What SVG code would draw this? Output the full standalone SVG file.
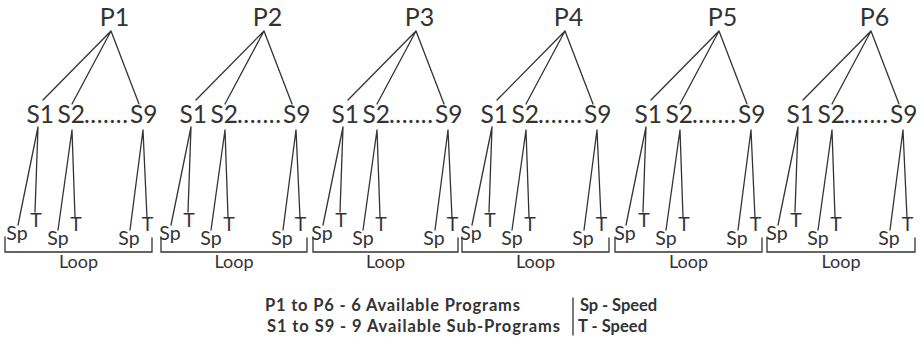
<svg xmlns="http://www.w3.org/2000/svg" width="922" height="342" viewBox="0 0 922 342">
<style>
text{font-family:Lato,"Noto Sans","Open Sans",sans-serif;fill:#333}
.p{font-size:25px;text-anchor:middle}
.s{font-size:24.5px}
.d{font-size:24.5px}
.leaf{font-size:19.5px;text-anchor:middle}
.loop{font-size:18px;text-anchor:middle}
.leg{font-size:16.5px;font-weight:bold}
.c{stroke:#333;stroke-width:1.3;fill:none;stroke-linecap:round}
</style>
<rect width="922" height="342" fill="#fff"/>
<defs>
<g id="conn">
<path d="M111,31L43,100M111,31L72,104M111,31L139,104M38,127L18,225M38,127L35,212M72,130L58,230M72,130L75,217M143,130L130,230M143,130L147,218"/>
</g>
</defs>
<g id="connectors" class="c">
<use href="#conn"/>
<use href="#conn" transform="translate(153,0)"/>
<use href="#conn" transform="translate(305,0)"/>
<use href="#conn" transform="translate(454,0)"/>
<use href="#conn" transform="translate(608,0)"/>
<use href="#conn" transform="translate(760,0)"/>
<path d="M5,237V252H152V238M161,237V252H307V238M313,237V252H458V238M462,237V252H609V238M615,237V252H762V238M767,237V252H915V238"/>
</g>
<g id="program1">
<g id="P1"><text class="p" x="114.5" y="25.5">P1</text></g>
<g id="P1-S1"><text class="s" x="26.5" y="123">S1</text></g>
<g id="P1-S2"><text class="s" x="57.5" y="123">S2</text><text class="d" x="84" y="123" textLength="44">.......</text></g>
<g id="P1-S9"><text class="s" x="130" y="123">S9</text></g>
<g id="P1-leaves"><text class="leaf" x="17" y="240">Sp</text><text class="leaf" x="36" y="227">T</text><text class="leaf" x="58" y="245">Sp</text><text class="leaf" x="76" y="231">T</text><text class="leaf" x="129" y="245">Sp</text><text class="leaf" x="147.5" y="231">T</text></g>
<g id="P1-loop"><text class="loop" x="78.5" y="268">Loop</text></g>
</g>
<g id="program2" transform="translate(153,0)">
<g id="P2"><text class="p" x="114.5" y="25.5">P2</text></g>
<g id="P2-S1"><text class="s" x="26.5" y="123">S1</text></g>
<g id="P2-S2"><text class="s" x="57.5" y="123">S2</text><text class="d" x="84" y="123" textLength="44">.......</text></g>
<g id="P2-S9"><text class="s" x="130" y="123">S9</text></g>
<g id="P2-leaves"><text class="leaf" x="17" y="240">Sp</text><text class="leaf" x="36" y="227">T</text><text class="leaf" x="58" y="245">Sp</text><text class="leaf" x="76" y="231">T</text><text class="leaf" x="129" y="245">Sp</text><text class="leaf" x="147.5" y="231">T</text></g>
</g>
<g id="P2-loop"><text class="loop" x="234" y="268">Loop</text></g>
<g id="program3" transform="translate(305,0)">
<g id="P3"><text class="p" x="114.5" y="25.5">P3</text></g>
<g id="P3-S1"><text class="s" x="26.5" y="123">S1</text></g>
<g id="P3-S2"><text class="s" x="57.5" y="123">S2</text><text class="d" x="84" y="123" textLength="44">.......</text></g>
<g id="P3-S9"><text class="s" x="130" y="123">S9</text></g>
<g id="P3-leaves"><text class="leaf" x="17" y="240">Sp</text><text class="leaf" x="36" y="227">T</text><text class="leaf" x="58" y="245">Sp</text><text class="leaf" x="76" y="231">T</text><text class="leaf" x="129" y="245">Sp</text><text class="leaf" x="147.5" y="231">T</text></g>
</g>
<g id="P3-loop"><text class="loop" x="385.5" y="268">Loop</text></g>
<g id="program4" transform="translate(454,0)">
<g id="P4"><text class="p" x="114.5" y="25.5">P4</text></g>
<g id="P4-S1"><text class="s" x="26.5" y="123">S1</text></g>
<g id="P4-S2"><text class="s" x="57.5" y="123">S2</text><text class="d" x="84" y="123" textLength="44">.......</text></g>
<g id="P4-S9"><text class="s" x="130" y="123">S9</text></g>
<g id="P4-leaves"><text class="leaf" x="17" y="240">Sp</text><text class="leaf" x="36" y="227">T</text><text class="leaf" x="58" y="245">Sp</text><text class="leaf" x="76" y="231">T</text><text class="leaf" x="129" y="245">Sp</text><text class="leaf" x="147.5" y="231">T</text></g>
</g>
<g id="P4-loop"><text class="loop" x="535.5" y="268">Loop</text></g>
<g id="program5" transform="translate(608,0)">
<g id="P5"><text class="p" x="114.5" y="25.5">P5</text></g>
<g id="P5-S1"><text class="s" x="26.5" y="123">S1</text></g>
<g id="P5-S2"><text class="s" x="57.5" y="123">S2</text><text class="d" x="84" y="123" textLength="44">.......</text></g>
<g id="P5-S9"><text class="s" x="130" y="123">S9</text></g>
<g id="P5-leaves"><text class="leaf" x="17" y="240">Sp</text><text class="leaf" x="36" y="227">T</text><text class="leaf" x="58" y="245">Sp</text><text class="leaf" x="76" y="231">T</text><text class="leaf" x="129" y="245">Sp</text><text class="leaf" x="147.5" y="231">T</text></g>
</g>
<g id="P5-loop"><text class="loop" x="688.5" y="268">Loop</text></g>
<g id="program6" transform="translate(760,0)">
<g id="P6"><text class="p" x="114.5" y="25.5">P6</text></g>
<g id="P6-S1"><text class="s" x="26.5" y="123">S1</text></g>
<g id="P6-S2"><text class="s" x="57.5" y="123">S2</text><text class="d" x="84" y="123" textLength="44">.......</text></g>
<g id="P6-S9"><text class="s" x="130" y="123">S9</text></g>
<g id="P6-leaves"><text class="leaf" x="17" y="240">Sp</text><text class="leaf" x="36" y="227">T</text><text class="leaf" x="58" y="245">Sp</text><text class="leaf" x="76" y="231">T</text><text class="leaf" x="129" y="245">Sp</text><text class="leaf" x="147.5" y="231">T</text></g>
</g>
<g id="P6-loop"><text class="loop" x="841" y="268">Loop</text></g>
<g id="legend">
<text class="leg" x="265" y="311" textLength="255">P1 to P6 - 6 Available Programs</text>
<text class="leg" x="267" y="332" textLength="293">S1 to S9 - 9 Available Sub-Programs</text>
<path class="c" d="M573,298V335"/>
<text class="leg" x="580" y="311" textLength="77">Sp - Speed</text>
<text class="leg" x="578" y="332" textLength="69">T - Speed</text>
</g>
</svg>
